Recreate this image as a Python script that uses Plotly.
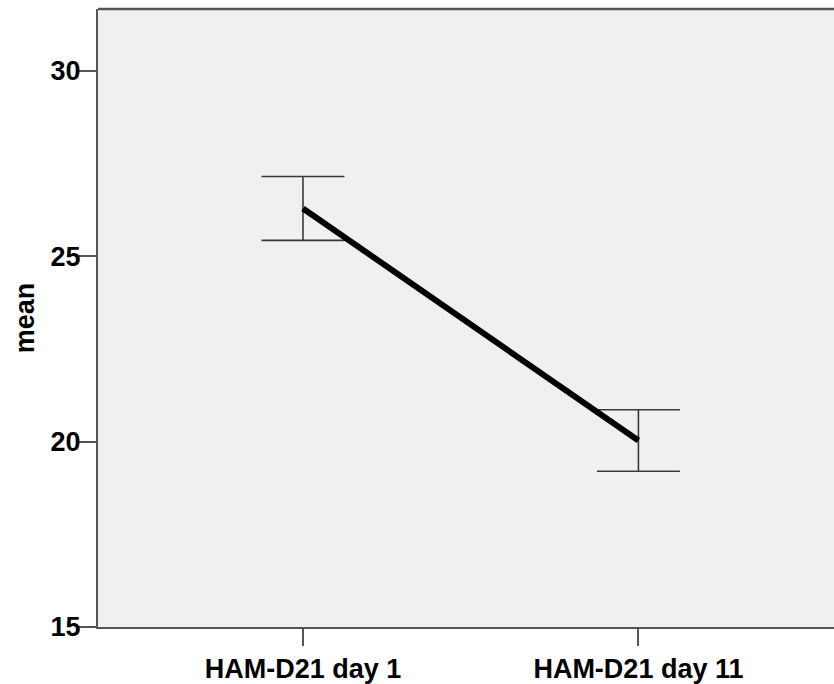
import plotly.graph_objects as go

# Mean HAM-D21 score at two time points, with error-bar half widths
categories = ["HAM-D21 day 1", "HAM-D21 day 11"]
means = [26.29, 20.03]
errors = [0.86, 0.83]
y_ticks = [15, 20, 25, 30]

positions = list(range(len(categories)))

fig = go.Figure()
fig.add_trace(go.Scatter(
    x=positions,
    y=means,
    mode="lines",
    line=dict(color="black", width=6),
    error_y=dict(type="data", array=errors, visible=True,
                 color="#3a3a3a", thickness=1.6, width=41.5),
    showlegend=False,
    hoverinfo="skip",
))

axis_font = dict(family="Liberation Sans, Arial, sans-serif", size=27,
                 color="#000000", weight="bold")

# light grey plotting area, running off the right-hand edge
fig.add_shape(type="rect", xref="paper", yref="paper",
              x0=0, x1=1.03, y0=0, y1=1, layer="below",
              fillcolor="#f0f0f0", line=dict(width=0))
# frame line along the top of the plotting area
fig.add_shape(type="line", xref="paper", yref="paper",
              x0=0, x1=1.03, y0=1, y1=1,
              line=dict(color="#555555", width=2.5))

fig.update_layout(
    width=834,
    height=684,
    margin=dict(l=98, r=0, t=9, b=53),
    paper_bgcolor="white",
    plot_bgcolor="white",
    xaxis=dict(
        range=[-0.611, 1.583],
        tickmode="array",
        tickvals=positions,
        ticktext=categories,
        tickfont=axis_font,
        ticks="outside",
        ticklen=17,
        tickwidth=2,
        tickcolor="#555555",
        showline=True,
        linecolor="#555555",
        linewidth=2,
        mirror=False,
        showgrid=False,
        zeroline=False,
    ),
    yaxis=dict(
        range=[15, 31.67],
        tickmode="array",
        tickvals=y_ticks,
        tickfont=axis_font,
        ticks="outside",
        ticklen=18,
        tickwidth=2,
        tickcolor="#555555",
        ticklabelstandoff=-8,
        showline=True,
        linecolor="#555555",
        linewidth=2,
        mirror=False,
        showgrid=False,
        zeroline=False,
        title=dict(text="mean", font=axis_font, standoff=8),
    ),
)

fig.write_html("out.html")
